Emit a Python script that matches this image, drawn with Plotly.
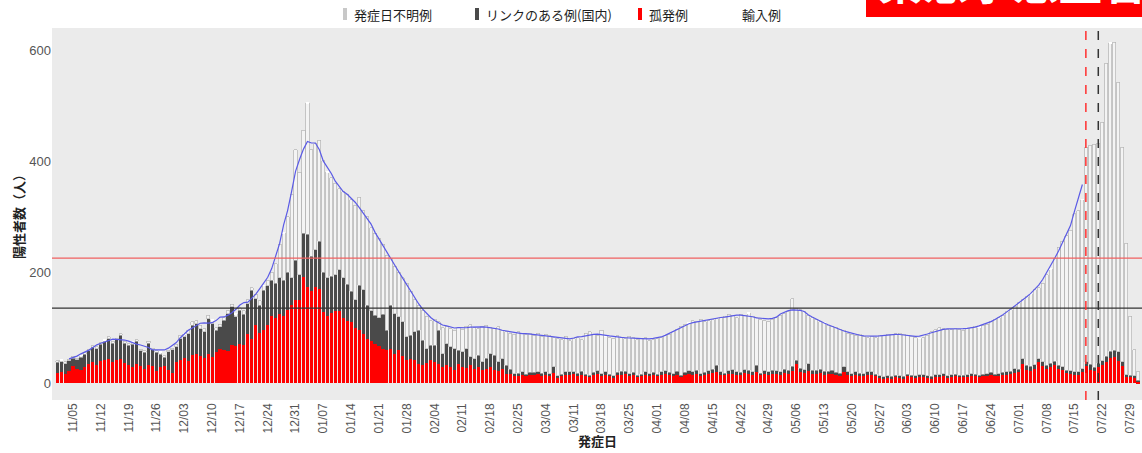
import pandas as pd
import plotly.graph_objects as go

# ---------------- data ----------------
start_date = "2020-11-01"

# 孤発例 (red)
isolated_nov = [18,20,17,22,30,26,24,28,35,38,32,40,42,44,38,41,43,36,33,28,35,30,26,32,30,22,28,30,24,18]
isolated_dec = [38,42,45,40,50,52,48,45,53,47,55,62,60,58,68,66,70,68,89,80,104,90,95,104,120,118,125,120,131,140,149]
isolated_jan = [150,191,173,165,173,170,128,120,126,130,130,118,112,110,100,95,88,80,75,70,66,62,60,62,52,59,48,41,44,42,35]
isolated_feb = [32,36,41,38,34,29,32,28,23,35,29,27,32,26,28,23,25,29,23,22,26,17,16,14,13,15,12,14]
isolated_mar = [14,16,12,15,13,18,10,12,15,14,16,13,15,12,11,14,16,13,15,12,10,14,15,16,13,14,11,12,15,13,14]
isolated_apr = [12,15,16,14,13,15,11,14,16,15,17,13,14,16,18,20,15,14,16,17,15,14,18,16,15,20,14,16,15,17]
isolated_may = [16,15,18,17,22,35,20,18,22,16,17,18,15,16,17,14,13,20,15,12,14,13,12,15,14,12,10,8,10,9,11]
isolated_jun = [10,9,12,11,10,12,11,10,9,11,12,13,10,11,12,11,10,12,13,12,11,12,13,14,12,13,14,15,16,18]
isolated_jul = [20,35,24,22,26,38,30,25,28,33,26,24,18,16,14,15,20,30,24,22,28,32,38,45,46,40,30,12,10,10,3]

# リンクのある例(国内) (dark gray)
linked_nov = [19,18,18,18,15,16,22,24,23,26,30,30,32,36,34,37,43,36,35,42,40,28,29,40,30,33,24,16,32,42]
linked_dec = [27,38,38,49,54,55,50,47,63,60,40,39,53,67,69,53,61,56,54,87,48,50,72,71,65,62,65,65,69,50,72]
linked_jan = [45,79,95,63,67,85,72,70,66,65,74,72,66,55,50,81,80,60,55,52,52,62,35,78,73,60,62,42,42,50,60]
linked_feb = [45,26,27,30,61,24,39,37,39,24,27,35,15,18,22,15,20,24,27,16,18,15,9,3,5,5,4,5]
linked_mar = [5,4,6,5,4,11,3,4,5,6,4,5,6,4,3,5,6,4,5,4,3,5,6,5,4,5,3,4,5,4,5]
linked_apr = [4,5,6,5,4,6,3,5,6,5,6,4,5,6,7,12,5,4,6,7,5,5,6,7,5,12,4,6,5,6]
linked_may = [6,5,7,6,8,6,7,6,13,7,6,7,6,5,6,5,5,9,5,5,6,5,5,5,6,4,3,3,3,3,3]
linked_jun = [3,3,4,3,3,3,4,3,3,4,3,4,3,4,4,3,4,3,4,4,3,4,4,5,4,4,5,5,5,8]
linked_jul = [5,9,8,8,7,6,8,7,8,6,6,5,5,6,6,5,6,8,10,6,8,8,10,12,13,16,8,3,4,3,2]

# total height of the stack (top of 発症日不明例 bars)
total_nov = [40,41,38,43,48,45,49,55,61,67,65,73,77,83,75,81,89,75,71,73,78,61,58,75,63,58,55,49,59,63]
total_dec = [70,86,88,95,110,112,104,98,122,113,100,106,118,130,142,124,136,130,150,172,160,148,175,185,200,215,250,270,300,340,420]
total_jan = [380,455,504,420,431,437,400,380,370,360,350,345,340,330,320,335,310,300,280,270,260,250,230,225,210,200,190,180,165,150,140]
total_feb = [130,120,112,115,110,100,102,98,95,100,97,102,105,100,98,102,104,100,99,101,95,92,90,88,92,90,87,89]
total_mar = [86,90,84,88,85,82,80,78,84,76,80,82,78,90,92,88,86,95,84,82,80,85,82,80,84,82,78,80,82,76,78]
total_apr = [80,82,85,88,92,96,102,105,108,112,110,115,110,112,114,116,118,120,124,122,118,124,122,126,120,118,114,112,110,115]
total_may = [118,122,125,128,152,135,132,128,122,118,115,110,108,104,102,100,96,94,90,88,86,88,84,82,84,82,85,86,88,87,89]
total_jun = [90,88,86,84,82,80,82,86,92,96,100,98,97,96,98,97,95,98,100,102,100,104,106,110,114,118,122,128,132,138]
total_jul = [145,150,155,160,168,172,180,195,205,225,245,255,265,275,305,310,330,425,428,430,432,470,576,612,614,542,425,252,120,60,20]

# 輸入例
imported_nov = [0,1,0,0,0,0,1,0,0,0,0,0,1,0,0,0,0,0,0,1,0,0,0,0,0,0,1,0,0,0]
imported_dec = [0,0,1,0,0,0,0,0,0,1,0,0,0,0,0,1,0,0,0,0,0,0,1,0,0,0,0,1,0,0,0]
imported_jan = [0,0,1,0,0,0,0,1,0,0,0,0,0,0,0,0,0,0,0,0,0,0,0,0,0,0,0,0,0,0,0]
imported_feb = [0,0,0,0,0,0,0,0,0,0,0,0,0,0,0,0,0,0,0,0,0,0,0,0,0,0,0,0]
imported_mar = [0,0,0,0,0,0,0,0,0,0,0,0,0,0,0,0,0,0,1,0,0,0,0,0,0,0,0,0,0,0,0]
imported_apr = [0,0,0,0,0,0,0,0,1,0,0,0,0,0,0,0,0,0,0,0,0,0,0,1,0,0,0,0,0,0]
imported_may = [0,0,0,0,0,0,0,0,0,0,0,0,1,0,0,0,0,0,0,0,0,0,0,0,0,0,0,0,0,0,0]
imported_jun = [0,0,0,0,0,1,0,0,0,0,0,0,0,0,0,0,0,0,0,0,1,0,0,0,0,0,0,0,0,0]
imported_jul = [0,0,0,1,0,0,0,0,1,0,0,0,0,0,0,0,1,0,0,0,0,0,0,1,0,0,0,0,0,0,0]

threshold_red = 225
threshold_black = 135
marker_red_date = "2021-07-17 21:00"
marker_black_date = "2021-07-21 00:00"
avg_end_date = "2021-07-17"

y_ticks = [0, 200, 400, 600]
x_tick_first = "2020-11-05"
x_tick_last = "2021-07-29"

# ---------------- assemble ----------------
isolated = (isolated_nov + isolated_dec + isolated_jan + isolated_feb + isolated_mar
            + isolated_apr + isolated_may + isolated_jun + isolated_jul)
linked = (linked_nov + linked_dec + linked_jan + linked_feb + linked_mar
          + linked_apr + linked_may + linked_jun + linked_jul)
total = (total_nov + total_dec + total_jan + total_feb + total_mar
         + total_apr + total_may + total_jun + total_jul)
imported = (imported_nov + imported_dec + imported_jan + imported_feb + imported_mar
            + imported_apr + imported_may + imported_jun + imported_jul)

dates = pd.date_range(start_date, periods=len(isolated), freq="D")
unknown = [t - r - l for t, r, l in zip(total, isolated, linked)]
avg7 = pd.Series(total, index=dates).rolling(7, center=True).mean()
avg7 = avg7[avg7.index <= avg_end_date].dropna()

tickvals = pd.date_range(x_tick_first, x_tick_last, freq="7D")
ticktext = [d.strftime("%m/%d") for d in tickvals]

# ---------------- figure ----------------
W, H = 1142, 453
L_M, R_M, T_M, B_M = 52, 0, 28, 53
PW, PH = W - L_M - R_M, H - T_M - B_M


def px_x(px):
    return (px - L_M) / PW


def px_y(py):
    return 1 + (T_M - py) / PH


JP = "Noto Sans CJK JP"

fig = go.Figure()
fig.add_bar(x=dates, y=isolated, name="孤発例", marker=dict(color="#ff0000", line=dict(width=0)))
fig.add_bar(x=dates, y=linked, name="リンクのある例(国内)", marker=dict(color="#4a4a4a", line=dict(width=0)))
fig.add_bar(x=dates, y=unknown, name="発症日不明例",
            marker=dict(color="#f4f4f4", line=dict(color="#b4b4b4", width=0.7)))
fig.add_bar(x=dates, y=imported, name="輸入例", marker=dict(color="#ffffff", line=dict(width=0)))
fig.add_scatter(x=avg7.index, y=avg7.values, mode="lines", line=dict(color="#5a5ae6", width=1.2),
                name="7日間平均")

fig.update_layout(
    barmode="stack", bargap=0.22,
    width=W, height=H, autosize=False,
    margin=dict(l=L_M, r=R_M, t=T_M, b=B_M, pad=0),
    paper_bgcolor="#ffffff", plot_bgcolor="#ebebeb",
    showlegend=False,
    font=dict(family="Liberation Sans, Arial, sans-serif", color="#555555"),
)
fig.update_xaxes(
    type="date", range=["2020-10-30 17:11:00", "2021-08-01 00:00:00"],
    tickmode="array", tickvals=tickvals, ticktext=ticktext, tickangle=-90,
    tickfont=dict(size=12, color="#555555", family="Liberation Sans, Arial"),
    showgrid=False, zeroline=False, showline=False, ticks="", automargin=False,
)
fig.update_yaxes(
    range=[-30.6, 639.6], tickmode="array", tickvals=y_ticks,
    tickfont=dict(size=13, color="#555555", family="Liberation Sans, Arial"),
    showgrid=False, zeroline=False, showline=False, ticks="", automargin=False,
)

# reference lines
fig.add_hline(y=threshold_red, line=dict(color="#f06060", width=1.2))
fig.add_hline(y=threshold_black, line=dict(color="#333333", width=1.4))
fig.add_vline(x=marker_red_date, line=dict(color="#ff3030", width=1.5, dash="dash"))
fig.add_vline(x=marker_black_date, line=dict(color="#333333", width=1.5, dash="dash"))

# axis titles
fig.add_annotation(text="<b>陽性者数（人）</b>", xref="paper", yref="paper",
                   x=px_x(18), y=0.5, xanchor="center", yanchor="middle", textangle=-90,
                   showarrow=False, font=dict(family=JP, size=13, color="#222222"))
fig.add_annotation(text="<b>発症日</b>", xref="paper", yref="paper",
                   x=0.5, y=px_y(441), xanchor="center", yanchor="middle",
                   showarrow=False, font=dict(family=JP, size=13, color="#222222"))

# legend (drawn as labels with small colour swatches)
legend_items = [("発症日不明例", 343, 352, "#c8c8c8"),
                ("リンクのある例(国内)", 475, 484, "#4a4a4a"),
                ("孤発例", 638, 647, "#ff0000"),
                ("輸入例", 736, 740, "#ffffff")]
for label, sx, tx, col in legend_items:
    fig.add_shape(type="rect", xref="paper", yref="paper",
                  x0=px_x(sx), x1=px_x(sx + 4), y0=px_y(20), y1=px_y(8),
                  fillcolor=col, line=dict(width=0))
    fig.add_annotation(text=label, xref="paper", yref="paper", x=px_x(tx), y=px_y(14),
                       xanchor="left", yanchor="middle", showarrow=False,
                       font=dict(family=JP, size=13, color="#1e1e1e"))

# red banner at top right (cut off by the page edge)
fig.add_shape(type="rect", xref="paper", yref="paper",
              x0=px_x(866), x1=px_x(1150), y0=px_y(17), y1=px_y(-5),
              fillcolor="#ff0000", line=dict(width=0), layer="above")
fig.add_annotation(text="<b>緊急事態宣言</b>", xref="paper", yref="paper",
                   x=px_x(877), y=px_y(14), xanchor="left", yanchor="bottom",
                   showarrow=False, borderpad=0,
                   font=dict(family=JP, size=45, color="#ffffff"))

fig.write_html("out.html", config={"displayModeBar": False},
               post_script="document.body.style.margin='0px';document.body.style.overflow='hidden';")
